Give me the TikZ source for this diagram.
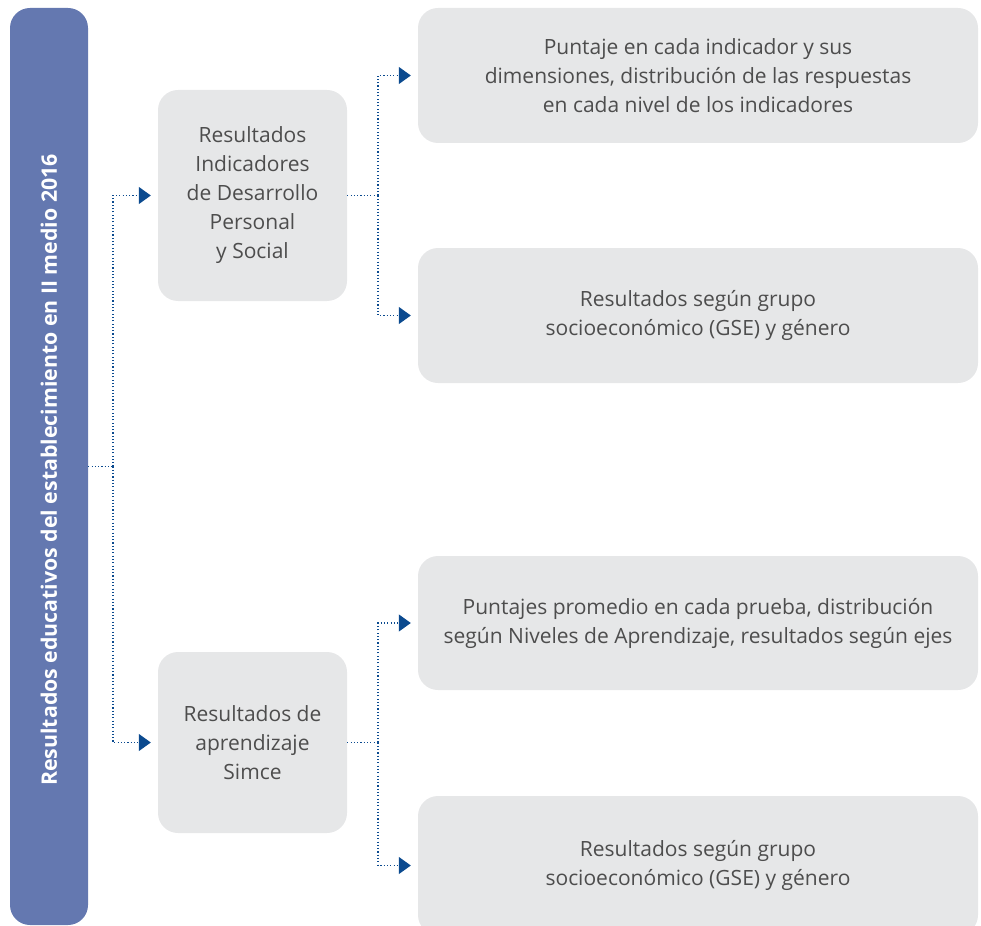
\documentclass[tikz,border=0pt]{standalone}
\usepackage{fontspec}
\setmainfont{Open Sans}
\usetikzlibrary{arrows.meta}
\definecolor{barblue}{HTML}{6478B0}
\definecolor{boxgray}{HTML}{E6E7E8}
\definecolor{linkblue}{HTML}{0B4A8F}
\definecolor{textgray}{HTML}{4D4D4D}
\tikzset{
  box/.style={fill=boxgray, rounded corners=20pt, text=textgray, align=center,
    font=\fontsize{21}{29}\selectfont, inner sep=0pt},
  link/.style={draw=linkblue, line width=1.1pt, dash pattern=on 1.1pt off 2.2pt},
  tip/.style={-{Triangle[length=12pt,width=17pt]}, shorten >=7pt}
}
\begin{document}
\begin{tikzpicture}[x=1pt,y=-1pt]
    \useasboundingbox (0,0) rectangle (981,925);

    \node[box, fill=barblue, minimum width=78pt, minimum height=917pt] (bar) at (49,466.5) {};
    \node[rotate=90, text=white, font=\bfseries\fontsize{21.3}{24}\selectfont] (title) at (49,470)
      {Resultados educativos del establecimiento en II medio 2016};

    \node[box, minimum width=189pt, minimum height=211pt] (ids) at (252.5,195.5)
      {Resultados\\Indicadores\\de Desarrollo\\Personal\\y Social};
    \node[box, minimum width=189pt, minimum height=181pt] (simce) at (252.5,742.5)
      {Resultados de\\aprendizaje\\Simce};

    \node[box, minimum width=560pt, minimum height=135pt] (ids1) at (698,75.5)
      {Puntaje en cada indicador y sus\\dimensiones, distribución de las respuestas\\en cada nivel de los indicadores};
    \node[box, minimum width=560pt, minimum height=135pt] (ids2) at (698,315.5)
      {Resultados según grupo\\socioeconómico (GSE) y género};
    \node[box, minimum width=560pt, minimum height=134pt] (simce1) at (698,623)
      {Puntajes promedio en cada prueba, distribución\\según Niveles de Aprendizaje, resultados según ejes};
    \node[box, minimum width=560pt, minimum height=139pt] (simce2) at (698,865.5)
      {Resultados según grupo\\socioeconómico (GSE) y género};

    \coordinate (split) at (113,466.5);
    \coordinate (splitids) at (378,195.5);
    \coordinate (splitsimce) at (378,742.5);

    \draw[link] (bar.east) -- (split);
    \draw[link, tip] (split) |- (ids.west);
    \draw[link, tip] (split) |- (simce.west);

    \draw[link] (ids.east) -- (splitids);
    \draw[link, tip] (splitids) |- (ids1.west);
    \draw[link, tip] (splitids) |- (ids2.west);

    \draw[link] (simce.east) -- (splitsimce);
    \draw[link, tip] (splitsimce) |- (simce1.west);
    \draw[link, tip] (splitsimce) |- (simce2.west);
  \end{tikzpicture}
\end{document}
